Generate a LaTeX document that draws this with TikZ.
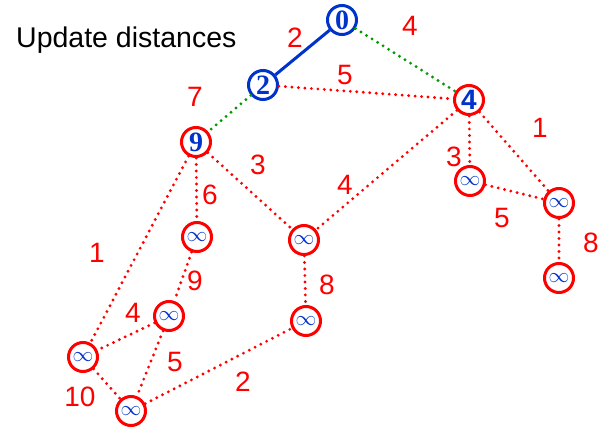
\documentclass[tikz,border=0pt]{standalone}
\usepackage{fontspec}
\setmainfont{Liberation Sans}
\newfontfamily\numfont{Liberation Serif}
\usetikzlibrary{positioning}
\definecolor{vblue}{RGB}{0,51,204}
\definecolor{ered}{RGB}{255,0,0}
\definecolor{tgreen}{RGB}{0,153,0}

\begin{document}
\begin{tikzpicture}[x=1pt, y=-1pt,
      every node/.style={font=\fontsize{28}{28}\selectfont},
      vtx/.style={circle, draw=ered, line width=3pt, minimum size=29pt, inner sep=0pt, text=vblue, fill=white},
      done/.style={vtx, draw=vblue},
      inf/.style={vtx, font=\fontsize{20}{20}\selectfont},
      wlab/.style={text=ered, inner sep=0pt},
      cand/.style={ered, line width=3.2pt, line cap=round, dash pattern=on 0pt off 6.5pt},
      tedge/.style={tgreen, line width=3.2pt, line cap=round, dash pattern=on 0pt off 6.5pt},
      tree/.style={vblue, line width=3pt}
    ]
      \useasboundingbox (0,0) rectangle (603,431);
      \node[anchor=west, inner sep=0pt, font=\fontsize{28.5}{28.5}\selectfont] (title) at (16,40) {Update distances};

      % settled and reached vertices
      \node[done] (v0) at (342,20) {\numfont\bfseries 0};
      \node[done] (v2) at (263,85) {\numfont\bfseries 2};
      \node[vtx] (v4) at (469,100) {\bfseries 4};
      \node[vtx] (v9) at (196,142) {\numfont\bfseries 9};

      % unreached vertices
      \node[inf] (a) at (470,181) {$\infty$};
      \node[inf] (b) at (559,203) {$\infty$};
      \node[inf] (c) at (559,278) {$\infty$};
      \node[inf] (d) at (197,237) {$\infty$};
      \node[inf] (e) at (304,240) {$\infty$};
      \node[inf] (f) at (306,321) {$\infty$};
      \node[inf] (g) at (169,316) {$\infty$};
      \node[inf] (h) at (83,357) {$\infty$};
      \node[inf] (i) at (131,411) {$\infty$};

      % edges
      \draw[tree] (v0) -- (v2);
      \draw[tedge] (v0) -- (v4);
      \draw[tedge] (v2) -- (v9);
      \draw[cand] (v2) -- (v4);
      \draw[cand] (v9) -- (d);
      \draw[cand] (v9) -- (e);
      \draw[cand] (v9) -- (h);
      \draw[cand] (v4) -- (e);
      \draw[cand] (v4) -- (a);
      \draw[cand] (v4) -- (b);
      \draw[cand] (a) -- (b);
      \draw[cand] (b) -- (c);
      \draw[cand] (d) -- (g);
      \draw[cand] (e) -- (f);
      \draw[cand] (g) -- (h);
      \draw[cand] (g) -- (i);
      \draw[cand] (h) -- (i);
      \draw[cand] (i) -- (f);

      % weights
      \node[wlab] (w02) at (295,38) {2};
      \node[wlab] (w04) at (410,26) {4};
      \node[wlab] (w29) at (195,97) {7};
      \node[wlab] (w24) at (345,75) {5};
      \node[wlab] (w9d) at (210,195) {6};
      \node[wlab] (w9e) at (258,165) {3};
      \node[wlab] (w9h) at (97,253) {1};
      \node[wlab] (w4e) at (345,185) {4};
      \node[wlab] (w4a) at (454,157) {3};
      \node[wlab] (w4b) at (540,128) {1};
      \node[wlab] (wab) at (502,218) {5};
      \node[wlab] (wbc) at (591,243) {8};
      \node[wlab] (wdg) at (195,281) {9};
      \node[wlab] (wef) at (327,285) {8};
      \node[wlab] (wgh) at (133,313) {4};
      \node[wlab] (wgi) at (175,362) {5};
      \node[wlab] (whi) at (80,397) {10};
      \node[wlab] (wif) at (243,382) {2};
    \end{tikzpicture}
\end{document}
